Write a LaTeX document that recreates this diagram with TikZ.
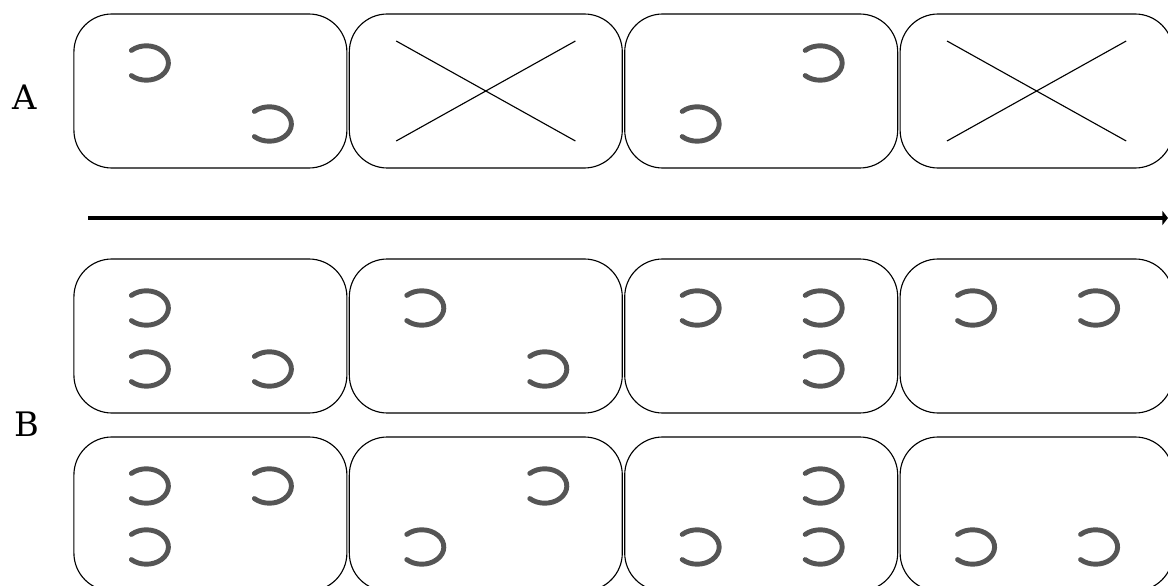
\documentclass[tikz,border=0pt]{standalone}
\usepackage{fontspec}
\usepackage{tikz}
\usetikzlibrary{arrows.meta, calc}
\newfontfamily\labelfont{DejaVu Serif}
\definecolor{shoegray}{HTML}{555555}

\begin{document}
\begin{tikzpicture}[
    cell/.style={rectangle, draw, rounded corners=0.95cm, minimum width=6.825cm, minimum height=3.85cm, line width=0.8pt, inner sep=0pt},
    lbl/.style={font=\labelfont\fontsize{24}{28}\selectfont},
    arr/.style={-{Triangle[length=4pt, width=10pt]}, line width=2.2pt},
    cross/.style={line width=0.8pt},
    shoe/.pic={\draw[shoegray, line width=3.5pt, line cap=round] (133:0.55cm and 0.43cm) arc[start angle=133, end angle=-133, x radius=0.55cm, y radius=0.43cm];}
]
\useasboundingbox (0,0) rectangle (29.2,14.625);

% Row labels
\node[lbl] (labA) at (0.625, 12.2) {A};
\node[lbl] (labB) at (0.675, 4.025) {B};

% Cells: a = row A, b = row B top, c = row B bottom
\foreach \i/\x in {1/5.26, 2/12.145, 3/19.03, 4/25.915} {
    \node[cell] (a\i) at (\x, 12.35) {};
    \node[cell] (b\i) at (\x, 6.225) {};
    \node[cell] (c\i) at (\x, 1.775) {};
}

% Time axis
\coordinate (t0) at (2.2, 9.175);
\coordinate (t1) at (29.2, 9.175);
\draw[arr] (t0) -- (t1);

% Row A
\pic at ($(a1)+(-1.6,0.7)$) {shoe};
\pic at ($(a1)+(1.475,-0.825)$) {shoe};
\draw[cross] ($(a2)+(-2.24,1.25)$) -- ($(a2)+(2.24,-1.25)$);
\draw[cross] ($(a2)+(-2.24,-1.25)$) -- ($(a2)+(2.24,1.25)$);
\pic at ($(a3)+(1.475,0.7)$) {shoe};
\pic at ($(a3)+(-1.6,-0.825)$) {shoe};
\draw[cross] ($(a4)+(-2.24,1.25)$) -- ($(a4)+(2.24,-1.25)$);
\draw[cross] ($(a4)+(-2.24,-1.25)$) -- ($(a4)+(2.24,1.25)$);

% Row B, top
\pic at ($(b1)+(-1.6,0.7)$) {shoe};
\pic at ($(b1)+(-1.6,-0.825)$) {shoe};
\pic at ($(b1)+(1.475,-0.825)$) {shoe};
\pic at ($(b2)+(-1.6,0.7)$) {shoe};
\pic at ($(b2)+(1.475,-0.825)$) {shoe};
\pic at ($(b3)+(-1.6,0.7)$) {shoe};
\pic at ($(b3)+(1.475,0.7)$) {shoe};
\pic at ($(b3)+(1.475,-0.825)$) {shoe};
\pic at ($(b4)+(-1.6,0.7)$) {shoe};
\pic at ($(b4)+(1.475,0.7)$) {shoe};

% Row B, bottom
\pic at ($(c1)+(-1.6,0.7)$) {shoe};
\pic at ($(c1)+(1.475,0.7)$) {shoe};
\pic at ($(c1)+(-1.6,-0.825)$) {shoe};
\pic at ($(c2)+(1.475,0.7)$) {shoe};
\pic at ($(c2)+(-1.6,-0.825)$) {shoe};
\pic at ($(c3)+(1.475,0.7)$) {shoe};
\pic at ($(c3)+(1.475,-0.825)$) {shoe};
\pic at ($(c3)+(-1.6,-0.825)$) {shoe};
\pic at ($(c4)+(-1.6,-0.825)$) {shoe};
\pic at ($(c4)+(1.475,-0.825)$) {shoe};
\end{tikzpicture}
\end{document}
